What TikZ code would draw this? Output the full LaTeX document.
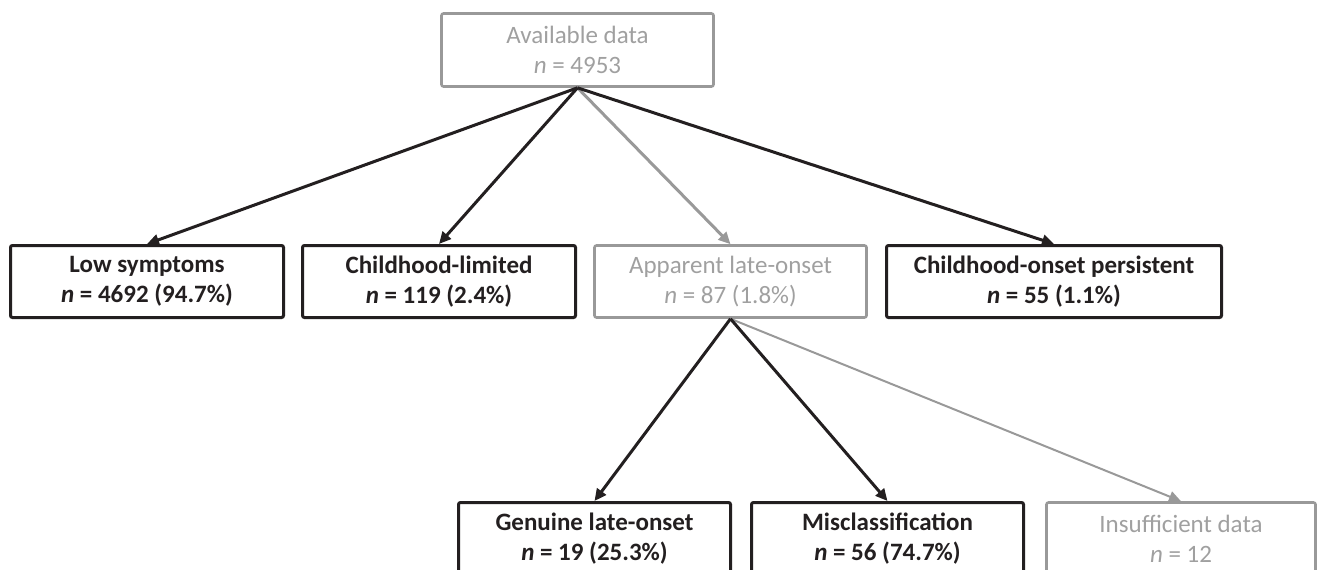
\documentclass[tikz,border=0pt]{standalone}
\usepackage{fontspec}
\setmainfont{Carlito}
\usetikzlibrary{arrows.meta}
\definecolor{ink}{RGB}{35,31,32}
\definecolor{faint}{RGB}{153,153,153}
\definecolor{fainttext}{RGB}{160,160,160}

\begin{document}
\begin{tikzpicture}[
        x=0.5pt, y=0.5pt,
        >={Triangle[length=6pt,width=5.5pt]},
        box/.style={draw=ink, line width=1.5pt, rounded corners=1pt, minimum width=136.5pt, minimum height=36pt, inner sep=0pt, align=center, text=ink, font=\fontsize{12.5}{15}\selectfont\bfseries},
        greybox/.style={box, draw=faint, line width=1.3pt, text=fainttext, font=\fontsize{12.5}{15}\selectfont},
        link/.style={->, draw=ink, line width=1.5pt},
        greylink/.style={->, draw=faint, line width=1.5pt}
    ]
        \useasboundingbox (0,0) rectangle (1318,569);

        % Top
        \node[greybox, minimum width=136pt, minimum height=36.5pt] (Avail) at (577.5,519) {Available data\\ \textit{n} = 4953};

        % First split
        \node[box] (LowSym) at (147,287.5) {Low symptoms\\ \textit{n} = 4692 (94.7\%)};
        \node[box] (ChildLim) at (439,287.5) {Childhood-limited\\ \textit{n} = 119 (2.4\%)};
        \node[greybox, minimum width=136pt] (AppLate) at (730.5,287.5) {Apparent late-onset\\ \textit{n} = 87 (1.8\%)};
        \node[box, minimum width=167.5pt] (ChildPers) at (1054,287.5) {Childhood-onset persistent\\ \textit{n} = 55 (1.1\%)};

        % Second split
        \node[box, minimum width=136pt] (Genuine) at (594.5,30.5) {Genuine late-onset\\ \textit{n} = 19 (25.3\%)};
        \node[box, minimum width=136pt] (Miscl) at (887.5,30.5) {Misclassification\\ \textit{n} = 56 (74.7\%)};
        \node[greybox, minimum width=134.5pt] (Insuff) at (1181,30.5) {Insufficient data\\ \textit{n} = 12};

        % Arrows
        \draw[greylink] (Avail.south) -- (AppLate.north);
        \draw[link] (Avail.south) -- (LowSym.north);
        \draw[link] (Avail.south) -- (ChildLim.north);
        \draw[link] (Avail.south) -- (ChildPers.north);

        \draw[greylink, line width=1pt] (AppLate.south) -- (Insuff.north);
        \draw[link] (AppLate.south) -- (Genuine.north);
        \draw[link] (AppLate.south) -- (Miscl.north);

    \end{tikzpicture}
\end{document}
